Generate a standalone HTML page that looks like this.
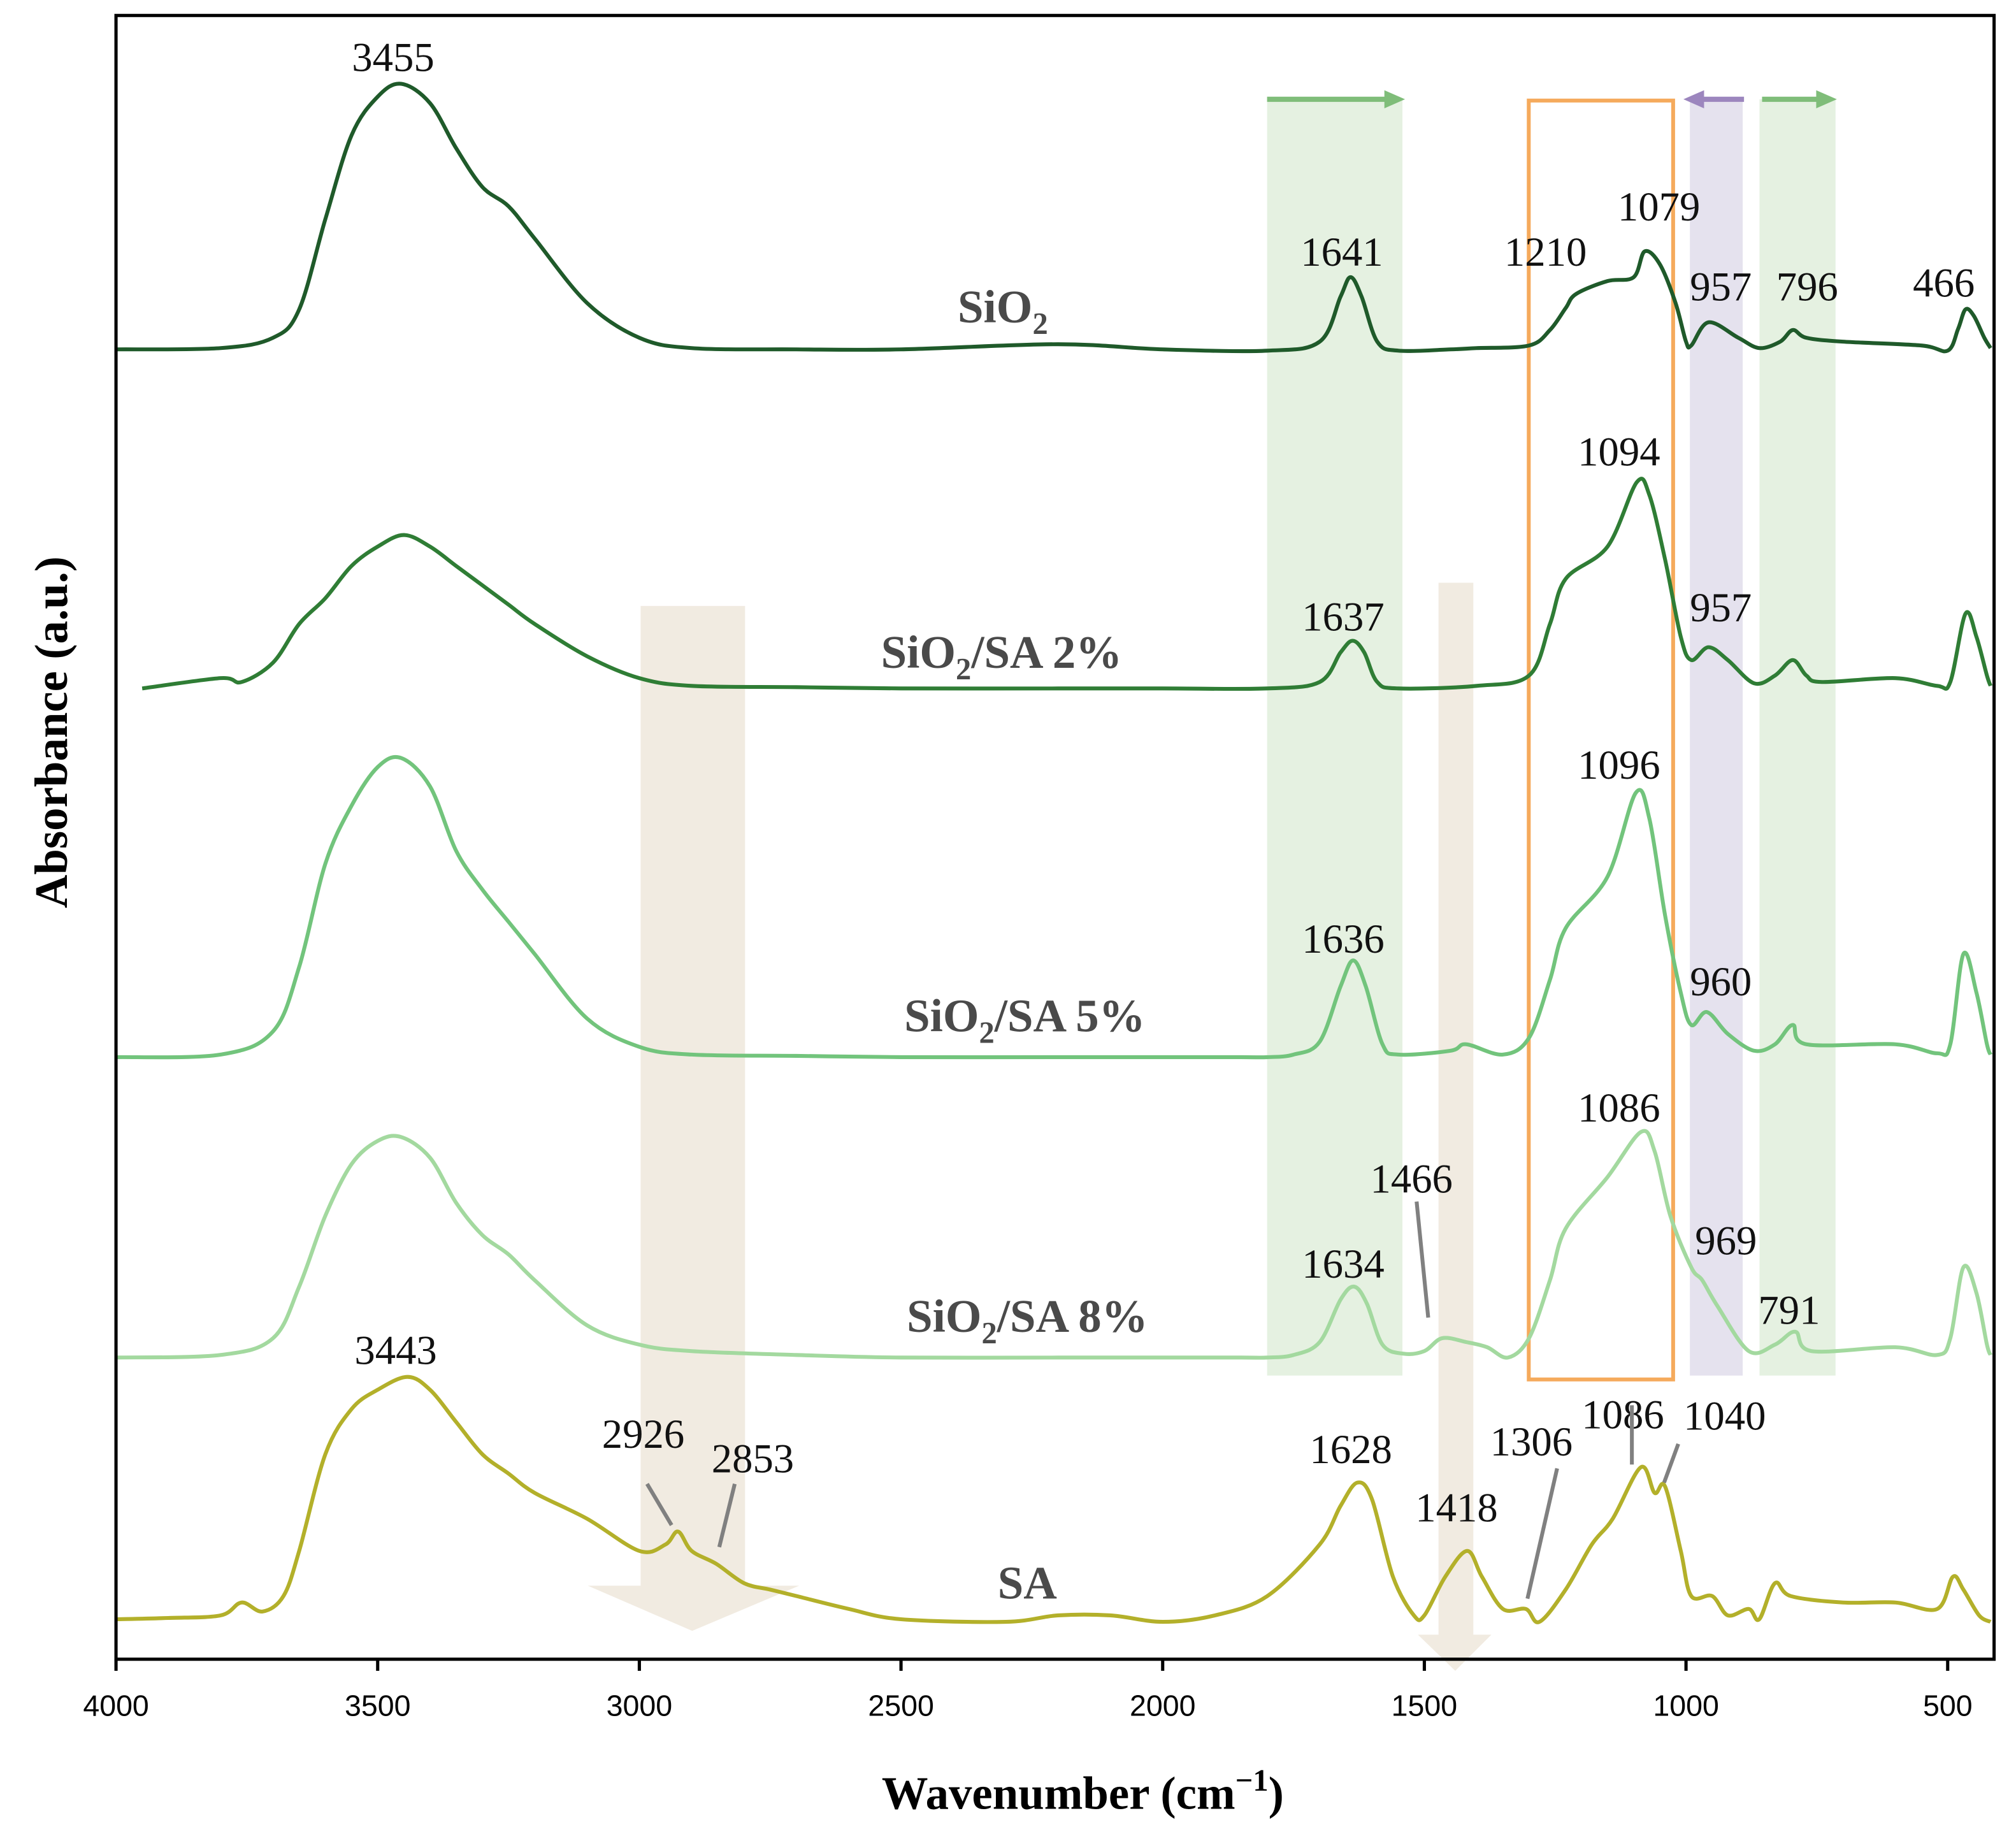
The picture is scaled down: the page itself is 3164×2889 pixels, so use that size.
<!DOCTYPE html>
<html><head><meta charset="utf-8"><style>
html,body{margin:0;padding:0;background:#fff}
svg{display:block}
.lbl{font-family:"Liberation Serif",serif;font-size:32px;fill:#111}
.nm{font-family:"Liberation Serif",serif;font-size:36px;font-weight:bold;fill:#4a4a4a}
.tick{font-family:"Liberation Sans",sans-serif;font-size:23px;fill:#000}
</style></head><body>
<svg id="chart" width="3164" height="2889" viewBox="0 0 1564 1428" preserveAspectRatio="none" xmlns="http://www.w3.org/2000/svg">
<g id="bands"></g>
<g id="series"></g>
<g id="ann"></g>
<g id="axes"></g>
</svg>
<script>
const seriesNames = ["SiO2","SiO2/SA 2%","SiO2/SA 5%","SiO2/SA 8%","SA"];
const seriesColors = ["#1f5a2a","#2f7d35","#72c47c","#a3d99f","#b3b02a"];
const seriesOffsets = [1016, 753, 467, 234, 29];
const wnSiO2 = [4000,3800,3700,3650,3600,3550,3500,3455,3400,3350,3300,3250,3200,3100,3000,2900,2700,2500,2200,2000,1800,1700,1660,1641,1620,1590,1550,1450,1400,1300,1260,1230,1210,1150,1100,1079,1050,1020,1000,990,957,900,860,820,796,770,700,550,500,480,466,450,430,418];
const absSiO2 = [0,1,9,31,101,166,196,206,191,156,126,111,86,36,9,1,0,0,4,0,-1,6,41,56,41,6,-1,0,1,3,15,32,43,53,56,76,66,36,6,3,21,9,1,6,15,9,6,3,-1,16,31,26,9,1];
const wnSA2 = [3950,3800,3760,3700,3650,3600,3550,3500,3450,3400,3350,3300,3250,3200,3100,3000,2900,2700,2500,2200,2000,1800,1700,1660,1637,1615,1590,1550,1400,1300,1260,1230,1150,1094,1070,1040,1010,990,957,920,870,830,796,770,740,600,520,495,466,445,425,418];
const absSA2 = [0,8,5,20,50,70,95,110,119,110,95,80,65,50,25,8,2,1,0,0,0,0,5,28,37,28,5,0,2,10,50,85,110,160,150,100,40,22,32,22,4,10,22,10,5,8,2,5,58,40,10,2];
const wnSA5 = [4000,3800,3700,3650,3600,3550,3500,3455,3400,3350,3300,3250,3200,3100,3000,2900,2700,2500,2200,2000,1850,1800,1750,1700,1660,1636,1612,1580,1550,1450,1420,1350,1300,1260,1230,1150,1096,1070,1040,1010,990,960,920,870,830,796,770,600,520,495,470,445,425,418];
const absSA5 = [0,2,20,70,150,195,225,232,210,160,130,105,80,30,8,2,1,0,0,0,0,0,2,12,55,75,55,10,2,5,10,2,15,60,100,140,205,185,110,50,25,35,18,5,10,25,10,10,3,10,80,50,10,2];
const wnSA8 = [4000,3800,3700,3650,3600,3550,3500,3455,3400,3350,3300,3250,3200,3100,3000,2900,2700,2500,2200,2000,1850,1800,1750,1700,1660,1634,1610,1580,1540,1500,1466,1420,1380,1340,1300,1260,1230,1150,1086,1060,1030,990,969,940,880,830,791,760,600,520,495,470,445,425,418];
const absSA8 = [0,2,15,55,110,150,168,171,155,120,95,80,60,25,10,5,2,0,0,0,0,0,2,12,45,55,42,10,3,5,15,12,8,0,15,60,100,140,175,160,110,70,60,40,5,10,20,5,8,2,15,70,50,10,2];
const wnSA = [4000,3900,3800,3760,3720,3680,3650,3600,3550,3500,3443,3400,3350,3300,3250,3200,3100,3000,2950,2926,2900,2853,2800,2750,2700,2600,2500,2300,2200,2100,2000,1900,1800,1700,1660,1628,1600,1560,1520,1500,1460,1418,1390,1350,1306,1280,1230,1180,1140,1086,1060,1040,1010,990,950,920,880,860,830,800,700,600,520,490,470,440,418];
const absSA = [2,3,5,15,8,20,55,130,165,180,190,180,155,130,115,100,80,55,60,70,55,45,30,25,20,10,2,0,5,5,0,5,20,60,90,108,95,35,5,5,35,55,35,10,10,0,25,60,80,120,100,105,55,20,20,5,10,2,30,20,15,15,10,35,25,5,0];
const allWn = [wnSiO2,wnSA2,wnSA5,wnSA8,wnSA];
const allAbs = [absSiO2,absSA2,absSA5,absSA8,absSA];
const xTicks = [4000,3500,3000,2500,2000,1500,1000,500];

const X0=90,X1=1547,Y0=1287,Y1=12;
const PX_PER_WN = 203.0/500;
function xs(w){return X0+(4000-w)*PX_PER_WN;}
function ys(v){return Y0-v;}
const NS="http://www.w3.org/2000/svg";
function mk(tag,parent,attrs){const e=document.createElementNS(NS,tag);for(const k in attrs)e.setAttribute(k,attrs[k]);parent.appendChild(e);return e;}
const gB=document.getElementById('bands'),gS=document.getElementById('series'),gA=document.getElementById('ann'),gX=document.getElementById('axes');

let r;
r=mk('rect',gB,{x:983,y:77,width:105,height:990,fill:"#e5f1e1"});


r=mk('rect',gB,{x:1311,y:77,width:41,height:990,fill:"#e5e2ee"});


r=mk('rect',gB,{x:1365,y:77,width:59,height:990,fill:"#e5f1e1"});


r=mk('path',gB,{d:`M497 470 H578 V1230 H620 L537 1265 L456 1230 H497 Z`,fill:"#f1ebe1"});


r=mk('path',gB,{d:`M1116 452 H1143 V1268 H1157 L1129 1296 L1100 1268 H1116 Z`,fill:"#f1ebe1"});


r=mk('rect',gB,{x:1186,y:78,width:112,height:992,fill:"none",stroke:"#f5aa5c","stroke-width":3});


function arrow(x1,x2,col,name){
  const g=mk('g',gB,{});
  
  
  const d=x2>x1?1:-1;
  mk('line',g,{x1:x1,y1:77,x2:x2-d*14,y2:77,stroke:col,"stroke-width":4});
  mk('path',g,{d:`M${x2} 77 L${x2-d*16} 70 L${x2-d*16} 84 Z`,fill:col});
}
arrow(983,1090,"#7fbd79","shift-arrow-1641");
arrow(1353,1306,"#9c86be","shift-arrow-957");
arrow(1367,1425,"#7fbd79","shift-arrow-796");

function pathFor(wn,ab,off){
  const p=wn.map((w,i)=>[xs(w),ys(ab[i]+off)]);
  let d=`M${p[0][0]} ${p[0][1]}`;
  for(let i=0;i<p.length-1;i++){
    const a=p[Math.max(0,i-1)],b=p[i],c=p[i+1],e=p[Math.min(p.length-1,i+2)];
    const c1=[b[0]+(c[0]-a[0])/6,b[1]+(c[1]-a[1])/6],c2=[c[0]-(e[0]-b[0])/6,c[1]-(e[1]-b[1])/6];
    d+=` C${c1[0]} ${c1[1]} ${c2[0]} ${c2[1]} ${c[0]} ${c[1]}`;
  }
  return d;
}
const slugs=["sio2","sio2-sa-2","sio2-sa-5","sio2-sa-8","sa"];
for(let s=0;s<5;s++){
  const pth=mk('path',gS,{d:pathFor(allWn[s],allAbs[s],seriesOffsets[s]),fill:"none",stroke:seriesColors[s],"stroke-width":3,"stroke-linejoin":"round"});
  
  
}

const peakLabels=[["3455",305,55],["1641",1041,206],["1210",1199,206],["1079",1287,171],["957",1335,233],["796",1402,233],["466",1508,230],
["1094",1256,361],["1637",1042,489],["957",1335,482],["1096",1256,604],["1636",1042,739],["960",1335,772],
["1086",1256,870],["1466",1095,925],["1634",1042,991],["969",1339,973],["791",1388,1027],
["3443",307,1058],["2926",499,1123],["2853",584,1142],["1628",1048,1135],["1418",1130,1180],["1306",1188,1129],["1086",1259,1108],["1040",1338,1109]];
peakLabels.forEach(l=>{
  const t=mk('text',gA,{x:l[1],y:l[2],class:"lbl","text-anchor":"middle"});t.textContent=l[0];
  
  
});
const leaders=[[1099,932,1108,1022],[502,1151,521,1183],[570,1151,558,1200],[1208,1139,1185,1240],[1266,1090,1266,1136],[1302,1120,1291,1150]];
leaders.forEach(l=>{
  const ln=mk('line',gA,{x1:l[0],y1:l[1],x2:l[2],y2:l[3],stroke:"#808080","stroke-width":3});
  
  
});
const nameLabels=[["SiO","₂","",778,250],["SiO","₂","/SA 2%",777,518],["SiO","₂","/SA 5%",795,800],["SiO","₂","/SA 8%",797,1033],["SA","","",797,1240]];
nameLabels.forEach((n,i)=>{
  const t=mk('text',gA,{x:n[3],y:n[4],class:"nm","text-anchor":"middle"});
  
  
  t.innerHTML=n[0]+(n[1]?'<tspan font-size="24" dy="9">2</tspan><tspan dy="-9">'+n[2]+'</tspan>':'');
});

const fr=mk('rect',gX,{x:X0,y:Y1,width:X1-X0,height:Y0-Y1,fill:"none",stroke:"#000","stroke-width":2.5});


xTicks.forEach(v=>{
  const x=xs(v);
  mk('line',gX,{x1:x,y1:Y0,x2:x,y2:Y0+9,stroke:"#000","stroke-width":2.5});
  const t=mk('text',gX,{x:x,y:Y0+44,class:"tick","text-anchor":"middle"});t.textContent=v;
  
  
});
const xt=mk('text',gX,{x:840,y:1403,"text-anchor":"middle","font-family":"Liberation Serif, serif","font-size":36,"font-weight":"bold"});
xt.innerHTML='Wavenumber (cm<tspan font-size="24" dy="-14">−1</tspan><tspan dy="14">)</tspan>';


const yt=mk('text',gX,{x:52,y:568,transform:"rotate(-90 52 568)","text-anchor":"middle","font-family":"Liberation Serif, serif","font-size":36,"font-weight":"bold"});
yt.textContent="Absorbance (a.u.)";


</script>
</body></html>
